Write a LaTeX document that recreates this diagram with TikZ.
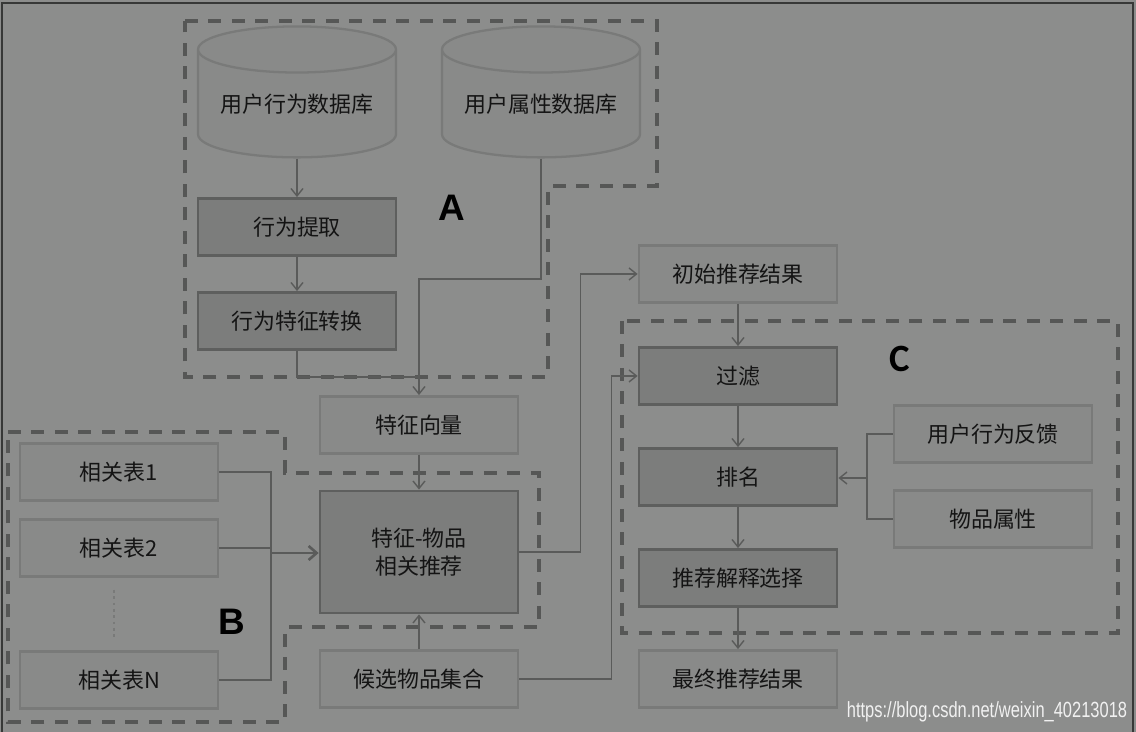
\documentclass[tikz,border=0pt]{standalone}
\usepackage{fontspec}
\setmainfont{Noto Sans CJK SC}
\newfontfamily\letterfont{Liberation Sans}
\newfontfamily\calfont{Carlito}
\usetikzlibrary{arrows.meta}
\usetikzlibrary{shapes.geometric}
\definecolor{bggray}{RGB}{140,141,140}
\definecolor{lightfill}{RGB}{137,138,137}
\definecolor{lightedge}{RGB}{121,122,121}
\definecolor{darkfill}{RGB}{124,125,124}
\definecolor{darkedge}{RGB}{94,95,94}
\definecolor{dashgray}{RGB}{86,87,86}
\definecolor{linkgray}{RGB}{90,91,90}
\definecolor{framegray}{RGB}{55,56,55}
\definecolor{inkblack}{RGB}{20,20,20}
\newcommand{\cntext}{\fontsize{12.5}{16}\selectfont}

\begin{document}
\begin{tikzpicture}[x=0.02cm,y=-0.02cm,
  box/.style={draw=lightedge,fill=lightfill,line width=1.6pt,minimum width=3.96cm,
    minimum height=1.14cm,inner sep=0pt,text=inkblack,font=\cntext,align=center},
  dbox/.style={box,draw=darkedge,fill=darkfill},
  dbase/.style={cylinder,shape border rotate=90,aspect=0.3,draw=lightedge,fill=lightfill,
    line width=1.3pt,minimum width=3.96cm,minimum height=2.62cm,inner sep=0pt,
    text=inkblack,font=\cntext},
  region/.style={draw=dashgray,line width=2.3pt,dash pattern=on 0.26cm off 0.21cm},
  link/.style={draw=linkgray,line width=0.8pt},
  arr/.style={link,-{Straight Barb[length=1.5mm,width=2.4mm]}},
  bigarr/.style={link,line width=1.5pt,-{Straight Barb[length=1.6mm,width=2.8mm]}},
  tag/.style={text=black,inner sep=0pt},
]
\useasboundingbox (0,0) rectangle (1136,732);
\fill[bggray] (0,0) rectangle (1136,732);
\draw[framegray,line width=1.6pt] (2,732) -- (2,3) -- (1133,3) -- (1133,732);

% dashed regions
\draw[region] (185,21) -- (657,21) -- (657,186) -- (548,186) -- (548,377) -- (185,377) -- cycle;
\draw[region] (8,432) -- (285,432) -- (285,473) -- (539,473) -- (539,627) -- (285,627) -- (285,722) -- (8,722) -- cycle;
\draw[region] (622,321) rectangle (1118,633);
\node[tag,font=\letterfont\bfseries\fontsize{21}{21}\selectfont] (labA) at (452,208) {A};
\node[tag,font=\letterfont\bfseries\fontsize{21}{21}\selectfont] (labB) at (232,622) {B};
\node[tag,font=\calfont\bfseries\fontsize{22}{22}\selectfont] (labC) at (900,359) {C};

% part A
\node[dbase] (actdb) at (297,104) {用户行为数据库};
\node[dbase] (attrdb) at (541,104) {用户属性数据库};
\node[dbox] (extract) at (297,227) {行为提取};
\node[dbox] (convert) at (297,321) {行为特征转换};

% part B
\node[box] (tab1) at (119,472) {相关表1};
\node[box] (tab2) at (119,548) {相关表2};
\node[box] (tabN) at (119,680) {相关表N};
\draw[lightedge,line width=1.6pt,dotted] (114,590) -- (114,640);

\node[box] (fvec) at (419,425) {特征向量};
\node[dbox,minimum height=2.44cm] (fitem) at (419,552) {特征-物品\\相关推荐};
\node[box] (cand) at (419,679) {候选物品集合};

% part C
\node[box] (init) at (738,274) {初始推荐结果};
\node[dbox] (filt) at (738,376) {过滤};
\node[dbox] (rank) at (738,477) {排名};
\node[dbox] (expl) at (738,578) {推荐解释选择};
\node[box] (final) at (738,679) {最终推荐结果};
\node[box] (fback) at (993,434) {用户行为反馈};
\node[box] (iattr) at (993,519) {物品属性};

% connectors
\coordinate (mergeA) at (420,377);
\coordinate (busB) at (271,553);
\coordinate (busC) at (867,478);
\draw[arr] (actdb.south) -- (extract);
\draw[arr] (extract) -- (convert);
\draw[arr] (attrdb.south) -- (attrdb.south |- 0,279) -| (fvec.north);
\draw[link] (convert.south) |- (mergeA);
\draw[arr] (fvec) -- (fitem);
\draw[arr] (cand) -- (fitem);
\draw[link] (tab1.east) -| (busB);
\draw[link] (tabN.east) -| (busB);
\draw[link] (tab2.east) -- (tab2.east -| busB);
\draw[bigarr] (busB) -- (fitem.west |- busB);
\draw[arr] (fitem.east) -- ++(61,0) |- (init.west);
\draw[arr] (cand.east) -- ++(92,0) |- (filt.west);
\draw[arr] (init) -- (filt);
\draw[arr] (filt) -- (rank);
\draw[arr] (rank) -- (expl);
\draw[arr] (expl) -- (final);
\draw[link] (fback.west) -| (busC);
\draw[link] (iattr.west) -| (busC);
\draw[arr] (busC) -- (rank.east |- busC);

\node[text=white!88!bggray,font=\letterfont\fontsize{12.5}{14}\selectfont,inner sep=0pt] (mark) at (987,712)
  {\scalebox{0.75}[1]{https://blog.csdn.net/weixin\_40213018}};
\end{tikzpicture}
\end{document}
